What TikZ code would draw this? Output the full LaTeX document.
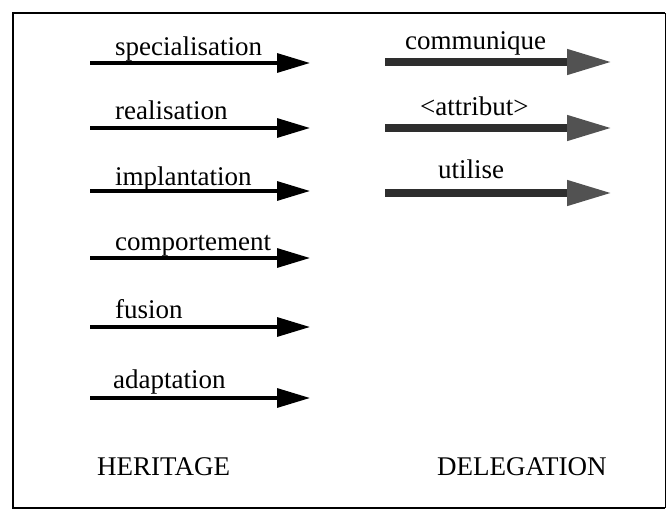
\documentclass[tikz,border=0pt]{standalone}
\usepackage{fontspec}
\setmainfont{Liberation Serif}
\usetikzlibrary{arrows.meta}
\tikzset{
  lbl/.style={anchor=base west, inner sep=0pt, font=\fontsize{27}{32}\selectfont},
  herarrow/.style={line width=3.2pt, -{Triangle[length=33pt,width=19pt]}},
  delarrow/.style={line width=7.5pt, black!82, -{Triangle[length=45pt,width=24pt,fill=black!68,color=black!68]}},
  frame/.style={line width=2.6pt}
}
\begin{document}
\begin{tikzpicture}[x=1pt,y=-1pt]
\useasboundingbox (0,0) rectangle (667,511);
% frame
\draw[frame] (665,13) -- (13,13) -- (13,508) -- (665,508);
\draw[line width=1pt] (665,13) -- (665,508);
% heritage labels
\node[lbl] (spec) at (115,56) {specialisation};
\node[lbl] (real) at (115,120) {realisation};
\node[lbl] (impl) at (115,185) {implantation};
\node[lbl] (comp) at (115,250) {comportement};
\node[lbl] (fus) at (115,318) {fusion};
\node[lbl] (adap) at (113,388) {adaptation};
% heritage arrows
\foreach \n/\y in {a/63,b/128,c/191,d/258,e/327,f/398}{
  \coordinate (h\n s) at (90,\y);
  \coordinate (h\n e) at (310,\y);
  \draw[herarrow] (h\n s) -- (h\n e);
}
% delegation labels
\node[lbl] (comm) at (405,50) {communique};
\node[lbl] (attr) at (420,115) {<attribut>};
\node[lbl] (util) at (438,178) {utilise};
\foreach \n/\y in {a/62,b/128,c/193}{
  \coordinate (d\n s) at (385,\y);
  \coordinate (d\n e) at (612,\y);
  \draw[delarrow] (d\n s) -- (d\n e);
}
% titles
\node[lbl] (her) at (97,475) {HERITAGE};
\node[lbl] (del) at (437,475) {DELEGATION};
\end{tikzpicture}
\end{document}
